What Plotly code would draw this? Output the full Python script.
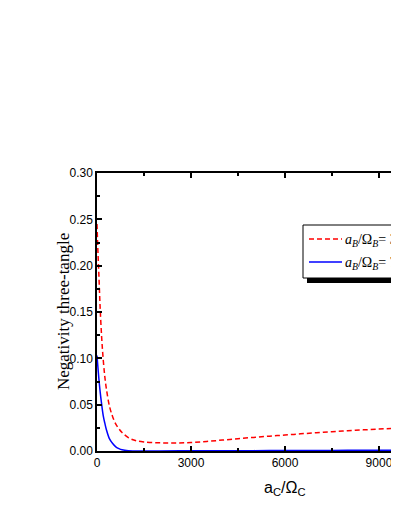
import plotly.graph_objects as go

x_red = [0, 30, 60, 100, 150, 200, 250, 300, 400, 500, 600, 700, 800, 1000, 1200,
         1500, 2000, 2500, 3000, 3500, 4000, 4500, 5000, 5500, 6000, 6500, 7000,
         7500, 8000, 8500, 9000, 9500, 10000]
y_red = [0.245, 0.215, 0.19, 0.155, 0.122, 0.098, 0.08, 0.067, 0.048, 0.037, 0.029,
         0.024, 0.020, 0.0145, 0.0115, 0.0098, 0.0088, 0.0087, 0.0092, 0.0103, 0.0118,
         0.0133, 0.0147, 0.016, 0.0172, 0.0185, 0.0197, 0.0208, 0.0218, 0.0228,
         0.0237, 0.0245, 0.0252]

x_blue = [0, 30, 60, 100, 150, 200, 250, 300, 400, 500, 600, 700, 800, 1000, 1500,
          2000, 3000, 4000, 5000, 6000, 7000, 8000, 9000, 10000]
y_blue = [0.103, 0.09, 0.078, 0.064, 0.05, 0.038, 0.03, 0.023, 0.013, 0.008, 0.0045,
          0.0025, 0.0013, 0.0004, 0.0001, 0.0001, 0.0002, 0.0003, 0.0004, 0.0005,
          0.0006, 0.0007, 0.0008, 0.0009]

x_ticks = [0, 3000, 6000, 9000]
y_ticks = [0.00, 0.05, 0.10, 0.15, 0.20, 0.25, 0.30]

name_red = "<i>a</i><sub><i>B</i></sub>/Ω<sub><i>B</i></sub>= 3000"
name_blue = "<i>a</i><sub><i>B</i></sub>/Ω<sub><i>B</i></sub>= 7000"

RED_DASH = '5px,3px'

fig = go.Figure()
fig.add_trace(go.Scatter(x=x_red, y=y_red, mode='lines', name=name_red, showlegend=False,
                         line=dict(color='#ff0000', width=1.5, dash=RED_DASH, shape='spline')))
fig.add_trace(go.Scatter(x=x_blue, y=y_blue, mode='lines', name=name_blue, showlegend=False,
                         line=dict(color='#0000ff', width=1.5, shape='spline')))

axis_common = dict(showgrid=False, zeroline=False, showline=True, linecolor='black',
                   linewidth=1.5, ticks='inside', tickwidth=1.5, ticklen=5,
                   tickcolor='black',
                   tickfont=dict(family='Liberation Sans, Arial', size=12, color='black'))

fig.update_xaxes(range=[0, 9640], tickvals=x_ticks, mirror='allticks',
                 minor=dict(dtick=1500, tick0=0, ticks='inside', ticklen=3,
                            tickwidth=1.5, tickcolor='black'),
                 **axis_common)
fig.update_yaxes(range=[0, 0.30], tickvals=y_ticks, tickformat='.2f', mirror=False,
                 minor=dict(dtick=0.025, tick0=0, ticks='inside', ticklen=3,
                            tickwidth=1.5, tickcolor='black'),
                 **axis_common)


# page pixel -> paper coords (plot area: left 97, bottom 451, 302 x 278 px)
def px(x):
    return (x - 97) / 302


def py(y):
    return (451 - y) / 278


# hand-drawn legend box with shadow (runs off the right edge as in the original)
fig.add_shape(type='rect', xref='paper', yref='paper', x0=px(307), x1=px(430),
              y0=py(283), y1=py(278), fillcolor='black', line=dict(width=0))
fig.add_shape(type='rect', xref='paper', yref='paper', x0=px(303), x1=px(425),
              y0=py(278), y1=py(225), fillcolor='white',
              line=dict(color='black', width=1))
for name, color, dash, y in [(name_red, '#ff0000', RED_DASH, 239),
                             (name_blue, '#0000ff', 'solid', 262)]:
    fig.add_shape(type='line', xref='paper', yref='paper', x0=px(309), x1=px(342),
                  y0=py(y), y1=py(y), line=dict(color=color, width=1.5, dash=dash))
    fig.add_annotation(text=name, xref='paper', yref='paper', x=px(343), y=py(y + 1),
                       xanchor='left', yanchor='middle', showarrow=False,
                       font=dict(family='Liberation Serif, Times New Roman', size=14,
                                 color='black'))

fig.add_annotation(text='Negativity three-tangle', xref='paper', yref='paper',
                   x=px(63), y=0.5, textangle=-90, showarrow=False,
                   xanchor='center', yanchor='middle',
                   font=dict(family='Liberation Serif, Times New Roman', size=17, color='black'))
fig.add_annotation(text='a<sub>C</sub>/Ω<sub>C</sub>', xref='paper', yref='paper',
                   x=px(285), y=py(488), showarrow=False,
                   xanchor='center', yanchor='middle',
                   font=dict(family='Liberation Sans, Arial', size=16, color='black'))

# page body has an 8px margin, so the figure is shifted and sized to suit
fig.update_layout(
    width=391, height=500,
    margin=dict(l=89, r=0, t=165, b=57, autoexpand=False),
    paper_bgcolor='white', plot_bgcolor='white',
    showlegend=False,
)

fig.write_html("out.html")
